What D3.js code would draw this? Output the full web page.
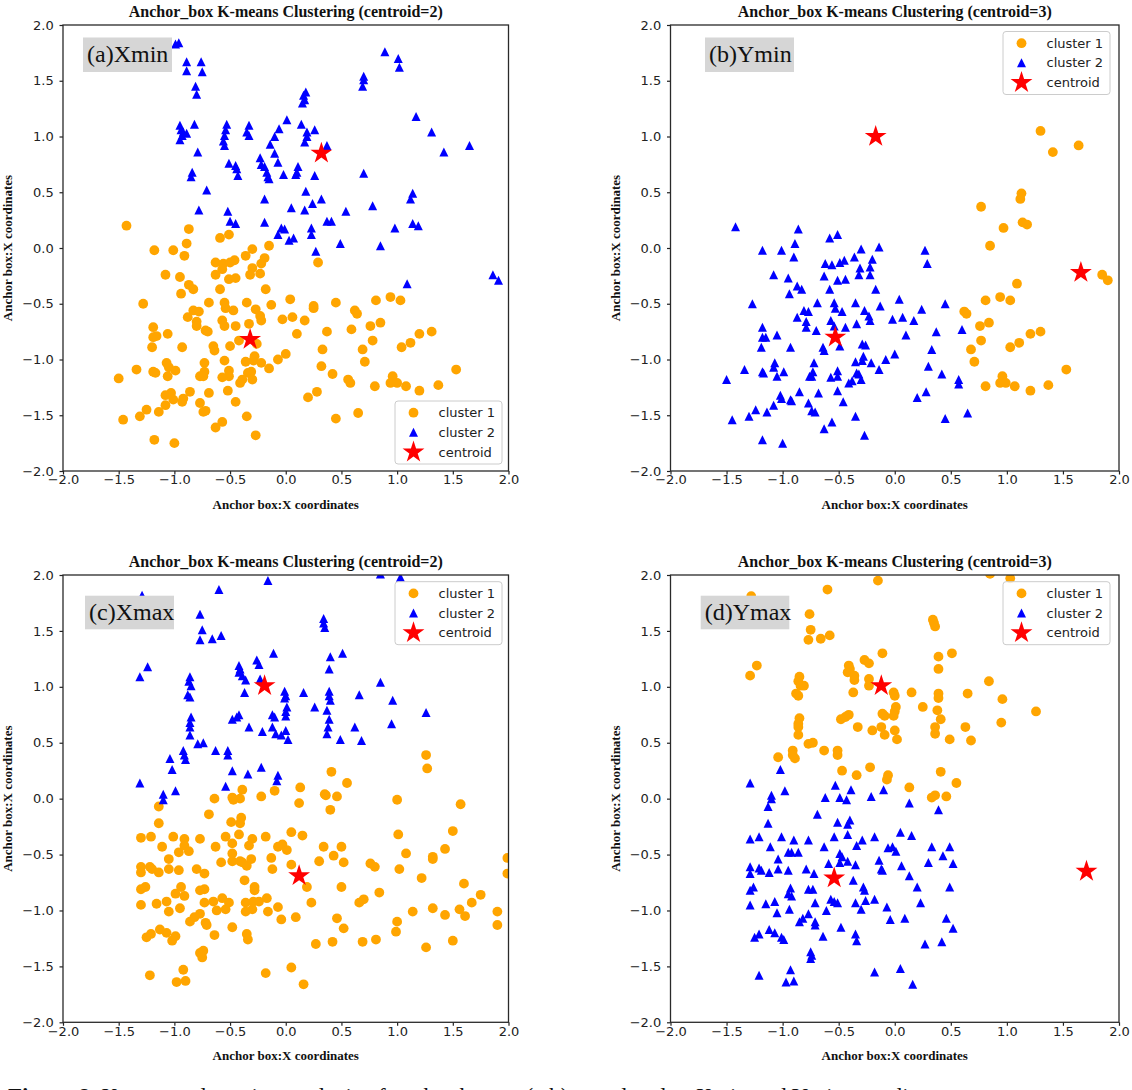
<!DOCTYPE html>
<html>
<head>
<meta charset="utf-8">
<script src="https://cdn.jsdelivr.net/npm/d3@7"></script>
<style>
  html, body { margin: 0; padding: 0; background: #fff; }
  svg { display: block; }
</style>
</head>
<body>
<svg id="chart" width="1132" height="1090"></svg>
<script>
// ---------------- DATA ----------------
const tickValues = [-2.0, -1.5, -1.0, -0.5, 0.0, 0.5, 1.0, 1.5, 2.0];
const titles = ["Anchor_box K-means Clustering (centroid=2)", "Anchor_box K-means Clustering (centroid=3)",
                "Anchor_box K-means Clustering (centroid=2)", "Anchor_box K-means Clustering (centroid=3)"];
const panelLabels = ["(a)Xmin", "(b)Ymin", "(c)Xmax", "(d)Ymax"];
const legendLabels = ["cluster 1", "cluster 2", "centroid"];
const xLabel = "Anchor box:X coordinates";
const yLabel = "Anchor box:X coordinates";
const caption = "Figure 8. K-means clustering analysis of anchor boxes: (a,b) correlated to Xmin and Ymin coordinates";

// Panel (a) Xmin
const aCluster1 = [[-1.43,0.20],[-0.87,0.17],[-0.59,0.09],[-0.51,0.12],[-0.89,0.04],[-1.18,-0.02],[-1.01,-0.02],[-0.30,-0.01],[-0.15,0.02],[-0.91,-0.07],[-0.36,-0.07],[-0.19,-0.09],[-0.46,-0.11],[-0.63,-0.13],[-0.56,-0.14],[-0.50,-0.13],[-0.22,-0.14],[0.29,-0.13],[-0.57,-0.19],[-0.30,-0.18],[-1.08,-0.24],[-0.95,-0.26],[-0.63,-0.24],[-0.51,-0.28],[-0.45,-0.27],[-0.32,-0.24],[-0.23,-0.23],[-0.87,-0.33],[-0.83,-0.37],[-0.59,-0.37],[-0.18,-0.37],[-0.94,-0.41],[0.04,-0.46],[0.94,-0.44],[1.03,-0.47],[-1.28,-0.50],[-0.69,-0.49],[-0.55,-0.49],[-0.54,-0.54],[-0.47,-0.56],[-0.35,-0.49],[-0.27,-0.55],[-0.13,-0.51],[0.25,-0.54],[0.25,-0.52],[0.45,-0.49],[0.81,-0.47],[0.62,-0.56],[-0.83,-0.56],[-0.78,-0.57],[-0.88,-0.62],[-0.80,-0.66],[-0.80,-0.70],[-0.57,-0.65],[-0.55,-0.70],[-0.45,-0.70],[-0.33,-0.68],[-0.23,-0.61],[-0.22,-0.65],[-0.03,-0.64],[0.06,-0.62],[0.17,-0.65],[0.64,-0.59],[0.85,-0.67],[0.76,-0.70],[-1.19,-0.71],[-0.72,-0.74],[-0.70,-0.75],[-1.19,-0.80],[-1.16,-0.79],[-1.06,-0.77],[-0.42,-0.83],[-0.26,-0.86],[0.10,-0.77],[0.37,-0.75],[0.59,-0.73],[1.20,-0.77],[1.31,-0.75],[-1.20,-0.89],[-0.93,-0.89],[-0.65,-0.88],[-0.64,-0.92],[-0.50,-0.88],[0.33,-0.91],[0.69,-0.91],[0.78,-0.83],[1.04,-0.89],[1.12,-0.85],[0.00,-0.95],[-0.28,-0.97],[-0.29,-1.01],[-0.22,-1.03],[-0.36,-1.02],[-0.55,-1.01],[-0.73,-1.03],[-1.07,-1.03],[-0.07,-1.00],[0.71,-1.02],[-1.05,-1.07],[-1.19,-1.11],[-1.17,-1.12],[-1.34,-1.09],[-1.50,-1.17],[-1.06,-1.15],[-0.99,-1.10],[-0.77,-1.15],[-0.73,-1.11],[-0.74,-1.15],[-0.51,-1.10],[-0.51,-1.15],[-0.57,-1.16],[-0.34,-1.12],[-0.31,-1.11],[-0.39,-1.18],[-0.30,-1.18],[-0.15,-1.08],[0.32,-1.06],[0.42,-1.13],[0.56,-1.18],[0.58,-1.21],[1.53,-1.09],[0.96,-1.15],[-0.41,-1.21],[-0.52,-1.28],[-0.69,-1.30],[-0.86,-1.29],[-1.08,-1.32],[-1.03,-1.30],[-1.01,-1.36],[-0.93,-1.38],[-0.92,-1.35],[0.80,-1.24],[0.94,-1.21],[1.00,-1.21],[1.08,-1.24],[1.20,-1.28],[1.37,-1.23],[0.28,-1.29],[0.20,-1.34],[-0.45,-1.38],[-0.77,-1.39],[-1.08,-1.41],[-1.14,-1.47],[-0.74,-1.47],[-0.72,-1.46],[-1.25,-1.45],[-1.31,-1.51],[-1.46,-1.54],[-0.35,-1.51],[-0.57,-1.56],[-0.63,-1.61],[0.45,-1.53],[0.65,-1.48],[-1.18,-1.72],[-1.00,-1.75],[-0.27,-1.68]];
const aCluster2 = [[-0.99,1.83],[-0.96,1.84],[-0.89,1.67],[-0.76,1.67],[-0.89,1.59],[-0.75,1.58],[-0.81,1.45],[-0.80,1.38],[0.89,1.76],[1.01,1.70],[1.02,1.62],[0.70,1.54],[0.70,1.51],[0.69,1.45],[0.18,1.40],[0.16,1.37],[0.17,1.33],[0.15,1.30],[1.17,1.18],[1.31,1.04],[1.42,0.86],[1.65,0.92],[-0.95,1.10],[-0.94,1.06],[-0.93,1.01],[-0.95,0.97],[-0.92,1.04],[-0.89,1.03],[-0.82,1.11],[-0.53,1.11],[-0.54,1.06],[-0.55,1.01],[-0.56,0.96],[-0.55,0.92],[-0.33,1.10],[-0.35,1.04],[-0.33,1.01],[0.01,1.15],[-0.06,1.07],[-0.10,1.00],[-0.14,0.93],[-0.10,0.85],[-0.07,0.77],[0.14,1.11],[0.19,1.04],[0.26,1.06],[0.19,1.00],[0.17,0.95],[0.37,0.92],[-0.79,0.86],[-0.23,0.81],[-0.22,0.75],[-0.19,0.73],[-0.17,0.68],[-0.16,0.64],[-0.15,0.62],[-0.51,0.76],[-0.45,0.74],[-0.44,0.71],[-0.43,0.65],[-0.02,0.66],[0.11,0.73],[0.10,0.68],[0.09,0.66],[-0.84,0.68],[-0.85,0.64],[0.26,0.65],[0.70,0.67],[-0.71,0.52],[0.18,0.51],[0.32,0.44],[0.24,0.40],[0.17,0.34],[-0.19,0.44],[0.05,0.36],[1.14,0.49],[1.12,0.44],[0.78,0.38],[-0.78,0.34],[-0.52,0.33],[-0.50,0.24],[-0.45,0.22],[-0.19,0.23],[0.37,0.24],[0.41,0.24],[0.54,0.33],[0.98,0.18],[1.14,0.22],[1.19,0.20],[-0.04,0.18],[-0.01,0.17],[-0.07,0.12],[0.03,0.07],[0.07,0.09],[0.23,0.18],[0.23,0.12],[0.49,0.04],[0.85,0.02],[0.27,-0.03],[1.09,-0.32],[1.86,-0.24],[1.91,-0.29]];
const aCentroids = [[-0.32,-0.82],[0.32,0.85]];

// Panel (b) Ymin
const bCluster1 = [[0.77,0.37],[1.13,0.49],[1.12,0.44],[1.14,0.23],[1.18,0.21],[0.97,0.18],[0.85,0.02],[1.30,1.05],[1.41,0.86],[1.64,0.92],[1.09,-0.32],[1.85,-0.24],[1.90,-0.29],[0.94,-0.44],[0.81,-0.47],[1.03,-0.47],[0.62,-0.57],[0.64,-0.59],[0.76,-0.70],[0.84,-0.67],[1.21,-0.77],[1.30,-0.75],[0.77,-0.83],[0.68,-0.91],[1.03,-0.89],[1.11,-0.85],[0.71,-1.02],[0.96,-1.15],[0.94,-1.21],[0.99,-1.21],[0.81,-1.24],[1.07,-1.24],[1.21,-1.28],[1.37,-1.23],[1.53,-1.09]];
const bCluster2 = [[-1.42,0.19],[-0.86,0.17],[-0.89,0.04],[-0.58,0.09],[-0.51,0.12],[-0.30,-0.01],[-0.14,0.01],[-1.18,-0.02],[-1.01,-0.02],[0.27,-0.02],[-0.90,-0.08],[0.29,-0.14],[-0.62,-0.14],[-0.56,-0.15],[-0.49,-0.13],[-0.45,-0.11],[-0.36,-0.08],[-0.31,-0.18],[-0.32,-0.24],[-0.22,-0.17],[-0.20,-0.10],[-1.08,-0.24],[-0.95,-0.27],[-0.63,-0.25],[-0.51,-0.29],[-0.44,-0.28],[-0.22,-0.24],[-0.87,-0.34],[-0.83,-0.37],[-0.94,-0.41],[-0.58,-0.37],[-0.17,-0.37],[-1.27,-0.50],[-0.69,-0.49],[-0.54,-0.49],[-0.53,-0.54],[-0.47,-0.57],[-0.35,-0.49],[-0.27,-0.56],[-0.13,-0.52],[0.04,-0.46],[0.24,-0.55],[0.45,-0.50],[-0.81,-0.56],[-0.77,-0.57],[-0.87,-0.62],[-0.79,-0.66],[-0.79,-0.71],[-0.70,-0.74],[-0.57,-0.65],[-0.54,-0.70],[-0.44,-0.71],[-0.34,-0.68],[-0.23,-0.61],[-0.22,-0.65],[-0.02,-0.64],[0.07,-0.62],[0.17,-0.65],[0.60,-0.73],[0.37,-0.75],[-1.18,-0.71],[-1.18,-0.80],[-1.15,-0.80],[-1.05,-0.78],[0.10,-0.78],[-1.19,-0.89],[-0.93,-0.89],[-0.64,-0.89],[-0.63,-0.92],[-0.49,-0.88],[-0.29,-0.86],[-0.26,-0.87],[0.33,-0.91],[-0.35,-1.02],[-0.28,-0.97],[-0.29,-1.01],[-0.21,-1.03],[-0.08,-1.00],[0.00,-0.95],[0.30,-1.06],[0.42,-1.13],[-0.72,-1.03],[-1.07,-1.03],[-1.08,-1.07],[-1.34,-1.09],[-1.18,-1.11],[-1.17,-1.12],[-0.99,-1.11],[-1.05,-1.15],[-1.50,-1.18],[-0.76,-1.15],[-0.73,-1.11],[-0.74,-1.15],[-0.57,-1.16],[-0.51,-1.10],[-0.51,-1.15],[-0.34,-1.12],[-0.32,-1.13],[-0.30,-1.18],[-0.41,-1.21],[-0.38,-1.19],[-0.14,-1.09],[0.57,-1.22],[0.57,-1.18],[-0.85,-1.29],[-0.68,-1.30],[-0.51,-1.28],[-0.46,-1.38],[-1.02,-1.32],[-0.93,-1.36],[-0.92,-1.37],[-1.01,-1.35],[-1.08,-1.41],[0.20,-1.34],[0.28,-1.29],[-0.77,-1.39],[-0.74,-1.46],[-0.71,-1.47],[-1.24,-1.45],[-1.14,-1.47],[-1.30,-1.51],[-1.45,-1.54],[-0.35,-1.51],[-0.56,-1.56],[-0.63,-1.62],[0.45,-1.53],[0.65,-1.48],[-1.18,-1.72],[-1.00,-1.75],[-0.27,-1.68]];
const bCentroids = [[-0.17,1.00],[1.66,-0.22],[-0.53,-0.80]];

// Panel (c) Xmax
const cCluster1 = [[1.26,0.39],[1.27,0.27],[0.41,0.24],[0.55,0.14],[0.13,0.10],[-0.10,0.07],[-0.39,0.08],[-0.22,0.02],[-0.48,0.01],[-0.41,0.00],[0.35,0.04],[0.46,0.02],[1.00,-0.01],[-0.64,0.00],[-0.47,-0.01],[0.12,-0.04],[0.36,0.03],[1.57,-0.05],[-1.14,-0.07],[-0.69,-0.14],[-0.49,-0.21],[-0.41,-0.22],[-0.40,-0.17],[0.40,-0.10],[-1.14,-0.22],[-1.30,-0.35],[-1.21,-0.34],[-1.01,-0.34],[-0.91,-0.36],[-0.77,-0.36],[-0.54,-0.34],[-0.42,-0.32],[-0.18,-0.34],[0.05,-0.30],[0.15,-0.33],[1.01,-0.32],[1.50,-0.29],[-1.11,-0.43],[-0.91,-0.42],[-0.48,-0.40],[-0.63,-0.43],[-0.30,-0.36],[-0.33,-0.42],[-0.07,-0.43],[-0.03,-0.41],[0.01,-0.46],[0.34,-0.43],[0.50,-0.43],[1.43,-0.45],[-0.96,-0.48],[-0.87,-0.47],[-1.05,-0.54],[-0.48,-0.49],[-0.48,-0.56],[-0.58,-0.57],[-0.41,-0.56],[-0.39,-0.57],[-0.35,-0.60],[-0.31,-0.54],[-0.13,-0.53],[-0.12,-0.63],[0.05,-0.59],[0.30,-0.56],[0.43,-0.51],[0.52,-0.57],[0.76,-0.58],[0.80,-0.61],[1.08,-0.49],[1.32,-0.52],[1.32,-0.54],[1.99,-0.53],[-1.30,-0.61],[-1.30,-0.66],[-1.22,-0.61],[-1.20,-0.63],[-1.14,-0.66],[-1.05,-0.63],[-0.96,-0.64],[-0.80,-0.63],[-0.73,-0.67],[1.02,-0.63],[1.99,-0.67],[-0.37,-0.73],[-0.28,-0.79],[-0.28,-0.82],[-0.73,-0.81],[-0.77,-0.82],[-0.94,-0.79],[-0.91,-0.87],[-0.99,-0.85],[-1.30,-0.81],[-1.26,-0.79],[0.19,-0.79],[0.50,-0.79],[0.84,-0.84],[1.22,-0.71],[1.60,-0.76],[1.75,-0.86],[-1.30,-0.95],[-1.16,-0.94],[-1.07,-0.92],[-1.05,-1.01],[-0.95,-0.98],[-0.73,-0.93],[-0.65,-0.92],[-0.62,-1.00],[-0.57,-0.89],[-0.54,-0.99],[-0.51,-0.93],[-0.36,-0.93],[-0.36,-1.01],[-0.30,-0.99],[-0.29,-0.92],[-0.24,-0.92],[-0.17,-0.89],[-0.16,-1.01],[-0.07,-0.97],[-0.04,-1.08],[0.09,-1.06],[0.23,-0.93],[0.66,-0.93],[0.70,-0.90],[1.14,-1.01],[1.32,-0.98],[1.43,-1.04],[1.56,-0.99],[1.61,-1.05],[1.67,-0.93],[1.90,-1.01],[-0.86,-1.10],[-0.82,-1.06],[-0.77,-1.03],[-0.72,-1.11],[-0.71,-1.13],[-0.48,-1.15],[0.46,-1.07],[0.52,-1.16],[1.00,-1.10],[1.90,-1.13],[-1.25,-1.24],[-1.21,-1.21],[-1.13,-1.17],[-1.07,-1.20],[-1.02,-1.27],[-0.99,-1.23],[-0.64,-1.22],[-0.35,-1.21],[-0.34,-1.26],[0.27,-1.30],[0.42,-1.28],[0.69,-1.28],[0.81,-1.26],[0.99,-1.19],[1.26,-1.33],[1.50,-1.27],[-0.77,-1.38],[-0.74,-1.36],[-0.75,-1.42],[-1.22,-1.58],[-0.92,-1.53],[-0.98,-1.64],[-0.90,-1.63],[-0.18,-1.56],[0.05,-1.51],[0.16,-1.66]];
const cCluster2 = [[-1.29,1.82],[-0.60,1.87],[-0.16,1.95],[0.85,2.01],[1.03,1.98],[-0.77,1.65],[-0.75,1.51],[-0.77,1.42],[-0.66,1.43],[-0.58,1.46],[0.34,1.61],[0.34,1.57],[0.35,1.53],[-1.31,1.09],[-1.24,1.18],[-0.42,1.19],[-0.41,1.16],[-0.42,1.13],[-0.39,1.10],[-0.36,1.06],[-0.26,1.24],[-0.24,1.20],[-0.11,1.30],[0.40,1.27],[0.39,1.16],[0.51,1.30],[-0.86,1.09],[-0.87,1.05],[-0.85,1.01],[-0.88,0.93],[-0.86,0.91],[-0.37,0.95],[-0.23,1.07],[-0.01,0.96],[0.00,0.92],[-0.01,0.90],[0.16,0.95],[0.39,0.96],[0.39,0.92],[0.40,0.88],[0.66,0.93],[0.85,1.04],[0.96,0.88],[1.26,0.77],[0.01,0.82],[0.00,0.78],[0.00,0.74],[0.26,0.82],[0.37,0.79],[0.39,0.71],[0.38,0.64],[0.37,0.58],[0.62,0.64],[0.68,0.52],[0.49,0.53],[0.95,0.67],[-0.85,0.73],[-0.86,0.68],[-0.86,0.64],[-0.86,0.57],[-0.48,0.71],[-0.44,0.73],[-0.42,0.75],[-0.33,0.64],[-0.21,0.60],[-0.12,0.75],[-0.10,0.73],[-0.12,0.64],[-0.09,0.58],[-0.04,0.57],[0.00,0.61],[0.02,0.53],[-0.79,0.49],[-0.74,0.50],[-0.92,0.43],[-0.91,0.39],[-0.90,0.35],[-1.04,0.36],[-1.02,0.26],[-0.63,0.43],[-0.52,0.43],[-0.52,0.39],[-0.48,0.25],[-0.34,0.22],[-0.22,0.28],[-0.07,0.21],[-0.08,0.16],[-0.54,0.11],[-1.31,0.14],[-0.99,0.07],[-1.10,0.04],[-1.10,-0.01]];
const cCentroids = [[-0.19,1.01],[0.12,-0.69]];

// Panel (d) Ymax
const dCluster1 = [[-1.28,1.81],[-0.60,1.87],[-0.15,1.95],[0.85,2.01],[1.03,1.97],[-0.76,1.65],[-0.75,1.51],[-0.77,1.42],[-0.66,1.43],[-0.58,1.46],[0.34,1.60],[0.35,1.57],[0.36,1.54],[-1.29,1.10],[-1.23,1.19],[-0.41,1.19],[-0.40,1.16],[-0.42,1.13],[-0.36,1.10],[-0.36,1.06],[-0.27,1.24],[-0.23,1.21],[-0.11,1.30],[0.39,1.27],[0.39,1.16],[0.51,1.30],[-0.85,1.09],[-0.86,1.05],[-0.84,1.01],[-0.81,1.01],[-0.88,0.94],[-0.86,0.92],[-0.37,0.95],[-0.23,1.07],[-0.23,1.01],[-0.01,0.95],[0.00,0.92],[0.01,0.82],[0.00,0.78],[-0.01,0.74],[0.15,0.95],[0.25,0.82],[0.39,0.94],[0.39,0.90],[0.38,0.79],[0.41,0.71],[0.36,0.64],[0.36,0.58],[0.49,0.53],[0.68,0.52],[0.63,0.64],[0.65,0.94],[0.84,1.05],[0.96,0.89],[0.95,0.68],[1.26,0.78],[-0.11,0.76],[-0.09,0.74],[-0.12,0.64],[-0.20,0.61],[-0.09,0.57],[0.00,0.61],[0.02,0.53],[-0.85,0.72],[-0.86,0.67],[-0.86,0.64],[-0.86,0.57],[-0.48,0.71],[-0.44,0.73],[-0.41,0.75],[-0.33,0.64],[-0.77,0.49],[-0.73,0.50],[-0.91,0.43],[-0.91,0.39],[-0.89,0.36],[-1.04,0.37],[-0.63,0.43],[-0.51,0.43],[-0.51,0.39],[-0.47,0.25],[-0.34,0.21],[-0.22,0.28],[-0.06,0.21],[-0.07,0.17],[0.41,0.24],[0.55,0.14],[0.13,0.10],[0.33,0.01],[0.36,0.03],[0.46,0.02]];
const dCluster2 = [[-1.29,0.14],[-1.02,0.26],[-1.10,0.03],[-0.98,0.07],[-0.53,0.12],[-0.39,0.08],[-0.10,0.08],[-0.62,0.01],[-0.49,0.01],[-0.21,0.02],[-1.10,0.00],[-0.43,-0.01],[0.13,-0.04],[-1.13,-0.07],[-1.13,-0.22],[-1.29,-0.36],[-1.21,-0.34],[-1.11,-0.43],[-1.01,-0.34],[-0.90,-0.37],[-0.92,-0.48],[-0.95,-0.48],[-0.86,-0.48],[-0.77,-0.37],[-1.04,-0.54],[-1.04,-0.63],[-0.95,-0.64],[-1.12,-0.66],[-1.29,-0.61],[-1.29,-0.67],[-1.21,-0.62],[-1.19,-0.64],[-1.26,-0.79],[-1.29,-0.82],[-1.29,-0.95],[-1.15,-0.94],[-1.07,-0.92],[-1.05,-1.02],[-0.94,-0.99],[-0.95,-0.85],[-0.92,-0.87],[-0.93,-0.80],[-0.79,-0.63],[-0.72,-0.67],[-0.77,-0.81],[-0.73,-0.81],[-0.77,-1.03],[-0.71,-0.93],[-0.85,-1.10],[-0.82,-1.07],[-0.71,-1.10],[-0.71,-1.13],[-0.64,-1.23],[-1.25,-1.24],[-1.21,-1.21],[-1.12,-1.17],[-1.07,-1.20],[-1.01,-1.24],[-0.99,-1.26],[-0.75,-1.37],[-0.74,-1.40],[-0.75,-1.43],[-1.21,-1.58],[-0.93,-1.53],[-0.97,-1.64],[-0.90,-1.63],[-0.69,-0.14],[-0.51,-0.21],[-0.42,-0.23],[-0.40,-0.19],[-0.42,-0.32],[-0.54,-0.34],[-0.63,-0.43],[-0.49,-0.49],[-0.47,-0.52],[-0.59,-0.58],[-0.49,-0.57],[-0.42,-0.56],[-0.35,-0.59],[-0.37,-0.73],[-0.28,-0.79],[-0.27,-0.82],[-0.35,-0.93],[-0.30,-0.99],[-0.26,-0.91],[-0.18,-0.90],[-0.29,-0.37],[-0.34,-0.42],[-0.18,-0.34],[-0.06,-0.44],[-0.02,-0.43],[0.01,-0.47],[-0.04,-1.08],[-0.07,-0.97],[0.05,-0.30],[0.06,-0.60],[0.13,-0.69],[0.15,-0.33],[0.20,-0.79],[0.23,-0.93],[0.09,-1.07],[-0.14,-0.55],[-0.12,-0.63],[-0.11,-0.64],[-0.54,-0.92],[-0.57,-0.90],[-0.51,-0.93],[-0.61,-1.00],[-0.48,-1.15],[-0.35,-1.21],[-0.34,-1.27],[-0.18,-1.55],[0.05,-1.52],[0.16,-1.66],[0.27,-1.30],[0.42,-1.28],[0.46,-1.07],[0.52,-1.16],[0.30,-0.57],[0.33,-0.43],[0.43,-0.51],[0.49,-0.43],[0.52,-0.58],[0.49,-0.79],[0.39,-0.10]];
const dCentroids = [[-0.12,1.01],[-0.54,-0.71],[1.71,-0.65]];

// ---------------- LAYOUT ----------------
const panels = [
  { c1: aCluster1, c2: aCluster2, cen: aCentroids, title: titles[0], label: panelLabels[0],
    px: [63, 508.5], py: [471, 25], labelBox: [83, 37.5, 89, 34.5], legendPos: [395, 401] },
  { c1: bCluster1, c2: bCluster2, cen: bCentroids, title: titles[1], label: panelLabels[1],
    px: [670.5, 1119], py: [471, 25], labelBox: [705, 37.5, 89, 34.5], legendPos: [1003, 31.5] },
  { c1: cCluster1, c2: cCluster2, cen: cCentroids, title: titles[2], label: panelLabels[2],
    px: [63, 508.5], py: [1022.3, 575], labelBox: [85, 595.7, 89, 33.6], legendPos: [395, 581.7] },
  { c1: dCluster1, c2: dCluster2, cen: dCentroids, title: titles[3], label: panelLabels[3],
    px: [670.5, 1119], py: [1022.3, 575], labelBox: [700.7, 595.7, 88.6, 33.6], legendPos: [1003, 581.7] }
];

const ORANGE = "#ffa500", BLUE = "#0000ff", RED = "#ff0000";
const SANS = "'DejaVu Sans', sans-serif";
const SERIF = "'Liberation Serif', 'Times New Roman', serif";
const R_CIRCLE = 4.9, H_TRI = 4.5;
const starSize = r => (r * r) / 0.8908130915292852;

const svg = d3.select("#chart");
const triPath = h => `M0,${-h}L${-h},${h}L${h},${h}Z`;

panels.forEach((p, i) => {
  const x = d3.scaleLinear().domain([-2, 2]).range(p.px);
  const y = d3.scaleLinear().domain([-2, 2]).range(p.py);
  const g = svg.append("g");
  const clipId = "clip" + i;
  svg.append("defs").append("clipPath").attr("id", clipId)
    .append("rect").attr("x", p.px[0]).attr("y", p.py[1])
    .attr("width", p.px[1] - p.px[0]).attr("height", p.py[0] - p.py[1]);

  // points
  const pts = g.append("g").attr("clip-path", `url(#${clipId})`);
  pts.selectAll("circle.c1").data(p.c1).join("circle")
    .attr("cx", d => x(d[0])).attr("cy", d => y(d[1])).attr("r", R_CIRCLE)
    .attr("fill", ORANGE);
  pts.selectAll("path.c2").data(p.c2).join("path")
    .attr("transform", d => `translate(${x(d[0])},${y(d[1])})`)
    .attr("d", triPath(H_TRI)).attr("fill", BLUE);
  pts.selectAll("path.cen").data(p.cen).join("path")
    .attr("transform", d => `translate(${x(d[0])},${y(d[1])})`)
    .attr("d", d3.symbol(d3.symbolStar, starSize(11.5))()).attr("fill", RED);

  // axes
  const fmt = d3.format(".1f");
  const xa = g.append("g").attr("transform", `translate(0,${p.py[0]})`)
    .call(d3.axisBottom(x).tickValues(tickValues).tickFormat(fmt).tickSize(3.5).tickSizeOuter(0).tickPadding(0.5));
  const ya = g.append("g").attr("transform", `translate(${p.px[0]},0)`)
    .call(d3.axisLeft(y).tickValues(tickValues).tickFormat(fmt).tickSize(3.5).tickSizeOuter(0).tickPadding(5.8));
  [xa, ya].forEach(a => {
    a.select(".domain").remove();
    a.selectAll("line").attr("stroke", "#222").attr("stroke-width", 1.2);
    a.selectAll("text").attr("font-family", SANS).attr("font-size", 13).attr("fill", "#222");
  });

  // frame
  g.append("rect").attr("x", p.px[0]).attr("y", p.py[1])
    .attr("width", p.px[1] - p.px[0]).attr("height", p.py[0] - p.py[1])
    .attr("fill", "none").attr("stroke", "#2a2a2a").attr("stroke-width", 1.3);

  // title
  const cx = (p.px[0] + p.px[1]) / 2;
  g.append("text").attr("x", cx).attr("y", p.py[1] - 8).attr("text-anchor", "middle")
    .attr("font-family", SERIF).attr("font-weight", "bold").attr("font-size", 16).attr("fill", "#111")
    .text(p.title);
  // x label
  g.append("text").attr("x", cx).attr("y", p.py[0] + 38).attr("text-anchor", "middle")
    .attr("font-family", SERIF).attr("font-weight", "bold").attr("font-size", 13).attr("fill", "#111")
    .text(xLabel);
  // y label
  const cy = (p.py[0] + p.py[1]) / 2;
  const lx = p.px[0] - 51;
  g.append("text").attr("transform", `translate(${lx},${cy}) rotate(-90)`).attr("text-anchor", "middle")
    .attr("font-family", SERIF).attr("font-weight", "bold").attr("font-size", 13).attr("fill", "#111")
    .text(yLabel);

  // panel label box
  const [bx, by, bw, bh] = p.labelBox;
  g.append("rect").attr("x", bx).attr("y", by).attr("width", bw).attr("height", bh).attr("fill", "#d6d6d6");
  g.append("text").attr("x", bx + 4).attr("y", by + 24.5)
    .attr("font-family", SERIF).attr("font-size", 24).attr("fill", "#111").text(p.label);

  // legend
  const [lgx, lgy] = p.legendPos;
  const lg = g.append("g").attr("transform", `translate(${lgx},${lgy})`);
  lg.append("rect").attr("width", 107).attr("height", 63).attr("rx", 3)
    .attr("fill", "#fff").attr("fill-opacity", 0.8).attr("stroke", "#cccccc").attr("stroke-width", 1);
  const rows = [11.7, 31.3, 51.1];
  lg.append("circle").attr("cx", 18.5).attr("cy", rows[0]).attr("r", R_CIRCLE).attr("fill", ORANGE);
  lg.append("path").attr("transform", `translate(18.5,${rows[1]})`).attr("d", triPath(H_TRI)).attr("fill", BLUE);
  lg.append("path").attr("transform", `translate(18.5,${rows[2]})`)
    .attr("d", d3.symbol(d3.symbolStar, starSize(11.5))()).attr("fill", RED);
  legendLabels.forEach((t, k) => {
    lg.append("text").attr("x", 43.5).attr("y", rows[k] + 4.6)
      .attr("font-family", SANS).attr("font-size", 13).attr("fill", "#222").text(t);
  });
});

// caption (the reference figure cuts it off at its bottom edge)
const cap = svg.append("text").attr("x", 8).attr("y", 1104)
  .attr("font-family", SERIF).attr("font-size", 23).attr("fill", "#111");
cap.append("tspan").attr("font-weight", "bold").text("Figure 8. ");
cap.append("tspan").text(caption.replace("Figure 8. ", ""));
</script>
</body>
</html>
